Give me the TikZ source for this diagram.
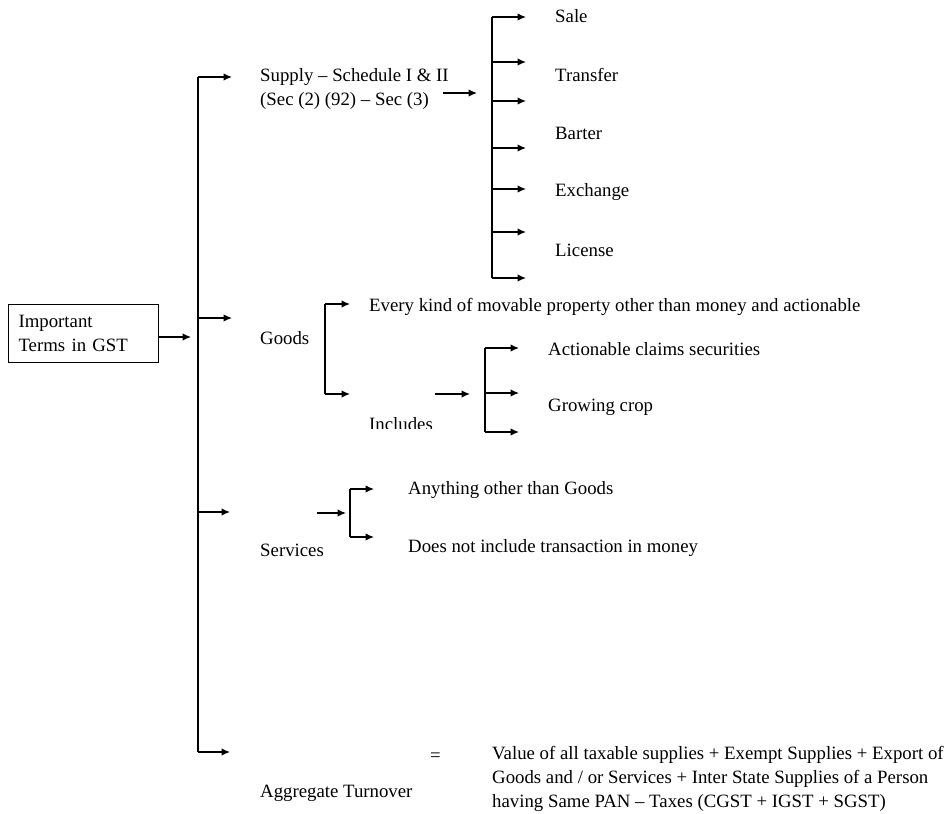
\documentclass[tikz,border=0pt]{standalone}
\usepackage{fontspec}
\setmainfont{Liberation Serif}
\usetikzlibrary{arrows.meta}
\begin{document}
\begin{tikzpicture}[x=1pt,y=-1pt,
  every node/.style={font=\fontsize{18.8}{24}\selectfont, inner sep=0pt},
  lbl/.style={anchor=west, align=left},
  link/.style={line width=1.3pt},
  arr/.style={link, -{Latex[length=8.5pt,width=7.5pt]}}]
\useasboundingbox (0,0) rectangle (948,814);

% root box
\node[draw, line width=1.1pt, minimum width=150pt, minimum height=58pt,
      text width=130pt, align=left, anchor=north west] (root) at (8,304)
      {Important\\Terms in GST};
\coordinate (trunk) at (198,337);
\draw[arr] (root.east |- trunk) -- ++(32,0) coordinate (rootin);

% main trunk
\coordinate (t1) at (198,77);
\coordinate (t2) at (198,318);
\coordinate (t3) at (198,512);
\coordinate (t4) at (198,752);
\draw[link] (t1) -- (t4);
\draw[arr] (t1) -- ++(34,0);
\draw[arr] (t2) -- ++(34,0);
\draw[arr] (t3) -- ++(32,0);
\draw[arr] (t4) -- ++(32,0);

% supply
\node[lbl] (supply) at (260,89) {Supply -- Schedule I \& II\\(Sec (2) (92) -- Sec (3)};
\coordinate (s0) at (492,17);
\coordinate (s6) at (492,278);
\draw[arr] (443,93) -- (477,93);
\draw[link] (s0) -- (s6);
\foreach \yy in {17,62,101,148,189,232,278}
  \draw[arr] (492,\yy) -- (526,\yy);
\node[lbl] (sale) at (555,16) {Sale};
\node[lbl] (transfer) at (555,75) {Transfer};
\node[lbl] (barter) at (555,133) {Barter};
\node[lbl] (exchange) at (555,192) {Exchange};
\node[lbl] (license) at (555,250) {License};

% goods
\node[lbl] (goods) at (260,338) {Goods};
\coordinate (g0) at (325,304);
\coordinate (g1) at (325,394);
\draw[link] (g0) -- (g1);
\draw[arr] (g0) -- (350,304);
\draw[arr] (g1) -- (350,394);
\node[lbl] (movable) at (369,307) {Every kind of movable property other than money and actionable};
\begin{scope}
  \clip (340,380) rectangle (480,428);
  \node[lbl] (includes) at (369,424) {Includes};
\end{scope}
\draw[arr] (435,394) -- (470,394);
\coordinate (i0) at (485,348);
\coordinate (i2) at (485,432);
\draw[link] (i0) -- (i2);
\draw[arr] (i0) -- (519,348);
\draw[arr] (485,393) -- (519,393);
\draw[arr] (i2) -- (519,432);
\node[lbl] (claims) at (548,349) {Actionable claims securities};
\node[lbl] (crop) at (548,407) {Growing crop};

% services
\node[lbl] (services) at (260,550) {Services};
\draw[arr] (317,513) -- (346,513);
\coordinate (v0) at (350,489);
\coordinate (v1) at (350,537);
\draw[link] (v0) -- (v1);
\draw[arr] (v0) -- (374,489);
\draw[arr] (v1) -- (374,537);
\node[lbl] (other) at (408,490) {Anything other than Goods};
\node[lbl] (money) at (408,548) {Does not include transaction in money};

% aggregate turnover
\node[lbl] (agg) at (260,793) {Aggregate Turnover};
\node[lbl] (eq) at (430,757) {=};
\node[lbl, anchor=north west] (def) at (492,746)
  {Value of all taxable supplies + Exempt Supplies + Export of\\
   Goods and / or Services + Inter State Supplies of a Person\\
   having Same PAN -- Taxes (CGST + IGST + SGST)};
\end{tikzpicture}
\end{document}
